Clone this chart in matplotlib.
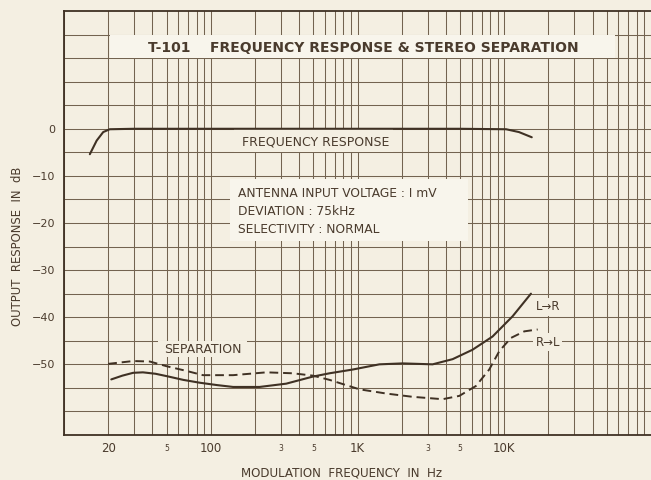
import matplotlib
matplotlib.use("Agg")
import matplotlib.pyplot as plt
from matplotlib.patches import Rectangle
from matplotlib.ticker import NullFormatter
import numpy as np

# ---- data ----
fr_freq = [15.0, 16.7, 18.5, 20.5, 30, 100, 1000, 5000, 10300, 12600, 15400]
fr_db = [-5.4, -2.5, -0.7, -0.1, 0, 0, 0, 0, -0.1, -0.7, -1.8]

lr_freq = [21, 25, 29.6, 34.5, 42, 50, 65, 84, 110, 142, 215, 327, 420, 497, 645,
           929, 1410, 2030, 3250, 4450, 6080, 8320, 11400, 15200]
lr_db = [-53.2, -52.4, -51.8, -51.7, -52.0, -52.5, -53.3, -53.9, -54.4, -54.8, -54.8,
         -54.1, -53.2, -52.6, -51.9, -51.1, -50.0, -49.8, -50.0, -48.9, -46.9, -44.1,
         -39.8, -35.0]

rl_freq = [20, 29.6, 38.4, 50, 68.4, 88.5, 142, 239, 362, 497, 645, 1030, 1570,
           2380, 3800, 4940, 6410, 7900, 9250, 11100, 13700, 16900]
rl_db = [-49.9, -49.3, -49.4, -50.4, -51.4, -52.3, -52.3, -51.7, -51.9, -52.4, -53.3,
         -55.3, -56.2, -56.9, -57.4, -56.7, -54.6, -51.1, -47.2, -44.4, -43.0, -42.6]

xtick_vals = [20, 50, 100, 300, 500, 1000, 3000, 5000, 10000]
xtick_labels = ["20", "5", "100", "3", "5", "1K", "3", "5", "10K"]
ytick_vals = [0, -10, -20, -30, -40, -50]
ytick_labels = ["0", "\u221210", "\u221220", "\u221230", "\u221240", "\u221250"]

# ---- style ----
BG = "#f4efe2"
BOX = "#f8f5ec"
INK = "#3f3124"
GRID = "#736350"
TXT = "#4a3b2d"

plt.rcParams["font.family"] = ["DejaVu Sans"]

fig = plt.figure(figsize=(6.51, 4.80), dpi=100)
fig.patch.set_facecolor(BG)
ax = fig.add_axes([64 / 651, 1 - 435 / 480, 1 - 64 / 651, (435 - 11) / 480])
ax.set_facecolor(BG)

ax.set_xscale("log")
ax.set_xlim(10, 100000)
ax.set_ylim(-65, 25)

# grid
minor_x = [m * 10 ** e for e in range(1, 5) for m in range(1, 10)]
ax.set_xticks(minor_x, minor=True)
ax.xaxis.set_minor_formatter(NullFormatter())
ax.set_xticks(xtick_vals)
ax.set_xticklabels(xtick_labels)
ax.set_yticks(np.arange(-60, 25, 5), minor=True)
ax.set_yticks(ytick_vals)
ax.set_yticklabels(ytick_labels)
ax.grid(True, which="both", color=GRID, lw=0.75, zorder=0)
ax.set_axisbelow(True)
ax.tick_params(which="both", length=0)
ax.tick_params(axis="y", pad=6, labelsize=8, labelcolor=TXT)
ax.tick_params(axis="x", pad=5, labelcolor=TXT)
for lab, txt in zip(ax.get_xticklabels(), xtick_labels):
    if txt in ("3", "5"):
        lab.set_fontsize(5.5)
        lab.set_y(-0.005)
    else:
        lab.set_fontsize(8.5)
for s in ax.spines.values():
    s.set_color(INK)
    s.set_linewidth(1.3)
ax.spines["right"].set_visible(False)

# curves
ax.plot(fr_freq, fr_db, color=INK, lw=1.5, zorder=5, solid_capstyle="round")
ax.plot(lr_freq, lr_db, color=INK, lw=1.5, zorder=5, solid_capstyle="round")
ax.plot(rl_freq, rl_db, color=INK, lw=1.4, zorder=5, linestyle=(0, (4.5, 2.5)))

# boxes hiding the grid behind the labels (axes-fraction layout)
def panel(x0, x1, y0, y1, fc=BG):
    ax.add_patch(Rectangle((x0, y0), x1 - x0, y1 - y0, transform=ax.transAxes,
                           fc=fc, ec="none", zorder=3))

panel(0.078, 0.939, 0.889, 0.944, BOX)
ax.text(0.5105, 0.913, "T-101    FREQUENCY RESPONSE & STEREO SEPARATION",
        transform=ax.transAxes, fontsize=10, color=TXT, ha="center", va="center",
        weight="bold", zorder=4)

panel(0.290, 0.560, 0.667, 0.722)
ax.text(0.4285, 0.692, "FREQUENCY RESPONSE", transform=ax.transAxes,
        fontsize=9, color=TXT, ha="center", va="center", zorder=4)

panel(0.283, 0.688, 0.458, 0.603, BOX)
ax.text(0.297, 0.526, "ANTENNA INPUT VOLTAGE : I mV\nDEVIATION : 75kHz\nSELECTIVITY : NORMAL",
        transform=ax.transAxes, fontsize=8.8, color=TXT, ha="left", va="center",
        linespacing=1.5, zorder=4)

panel(0.160, 0.312, 0.184, 0.222)
ax.text(0.236, 0.202, "SEPARATION", transform=ax.transAxes,
        fontsize=9, color=TXT, ha="center", va="center", zorder=4)

for ty, s in ((0.3026, "L\u2192R"), (0.2186, "R\u2192L")):
    ax.text(0.824, ty, s, transform=ax.transAxes, fontsize=8.5, color=TXT,
            ha="center", va="center", zorder=4,
            bbox=dict(boxstyle="square,pad=0.2", fc=BG, ec="none"))

ax.set_xlabel("MODULATION  FREQUENCY  IN  Hz", fontsize=8.6, color=TXT)
ax.xaxis.label.set_va("center")
ax.xaxis.set_label_coords(0.473, -0.090)
ax.set_ylabel("OUTPUT  RESPONSE  IN  dB", fontsize=8.4, color=TXT)
ax.yaxis.label.set_va("center")
ax.yaxis.set_label_coords(-0.080, 0.446)

fig.savefig("out.png", dpi=100, facecolor=BG)
